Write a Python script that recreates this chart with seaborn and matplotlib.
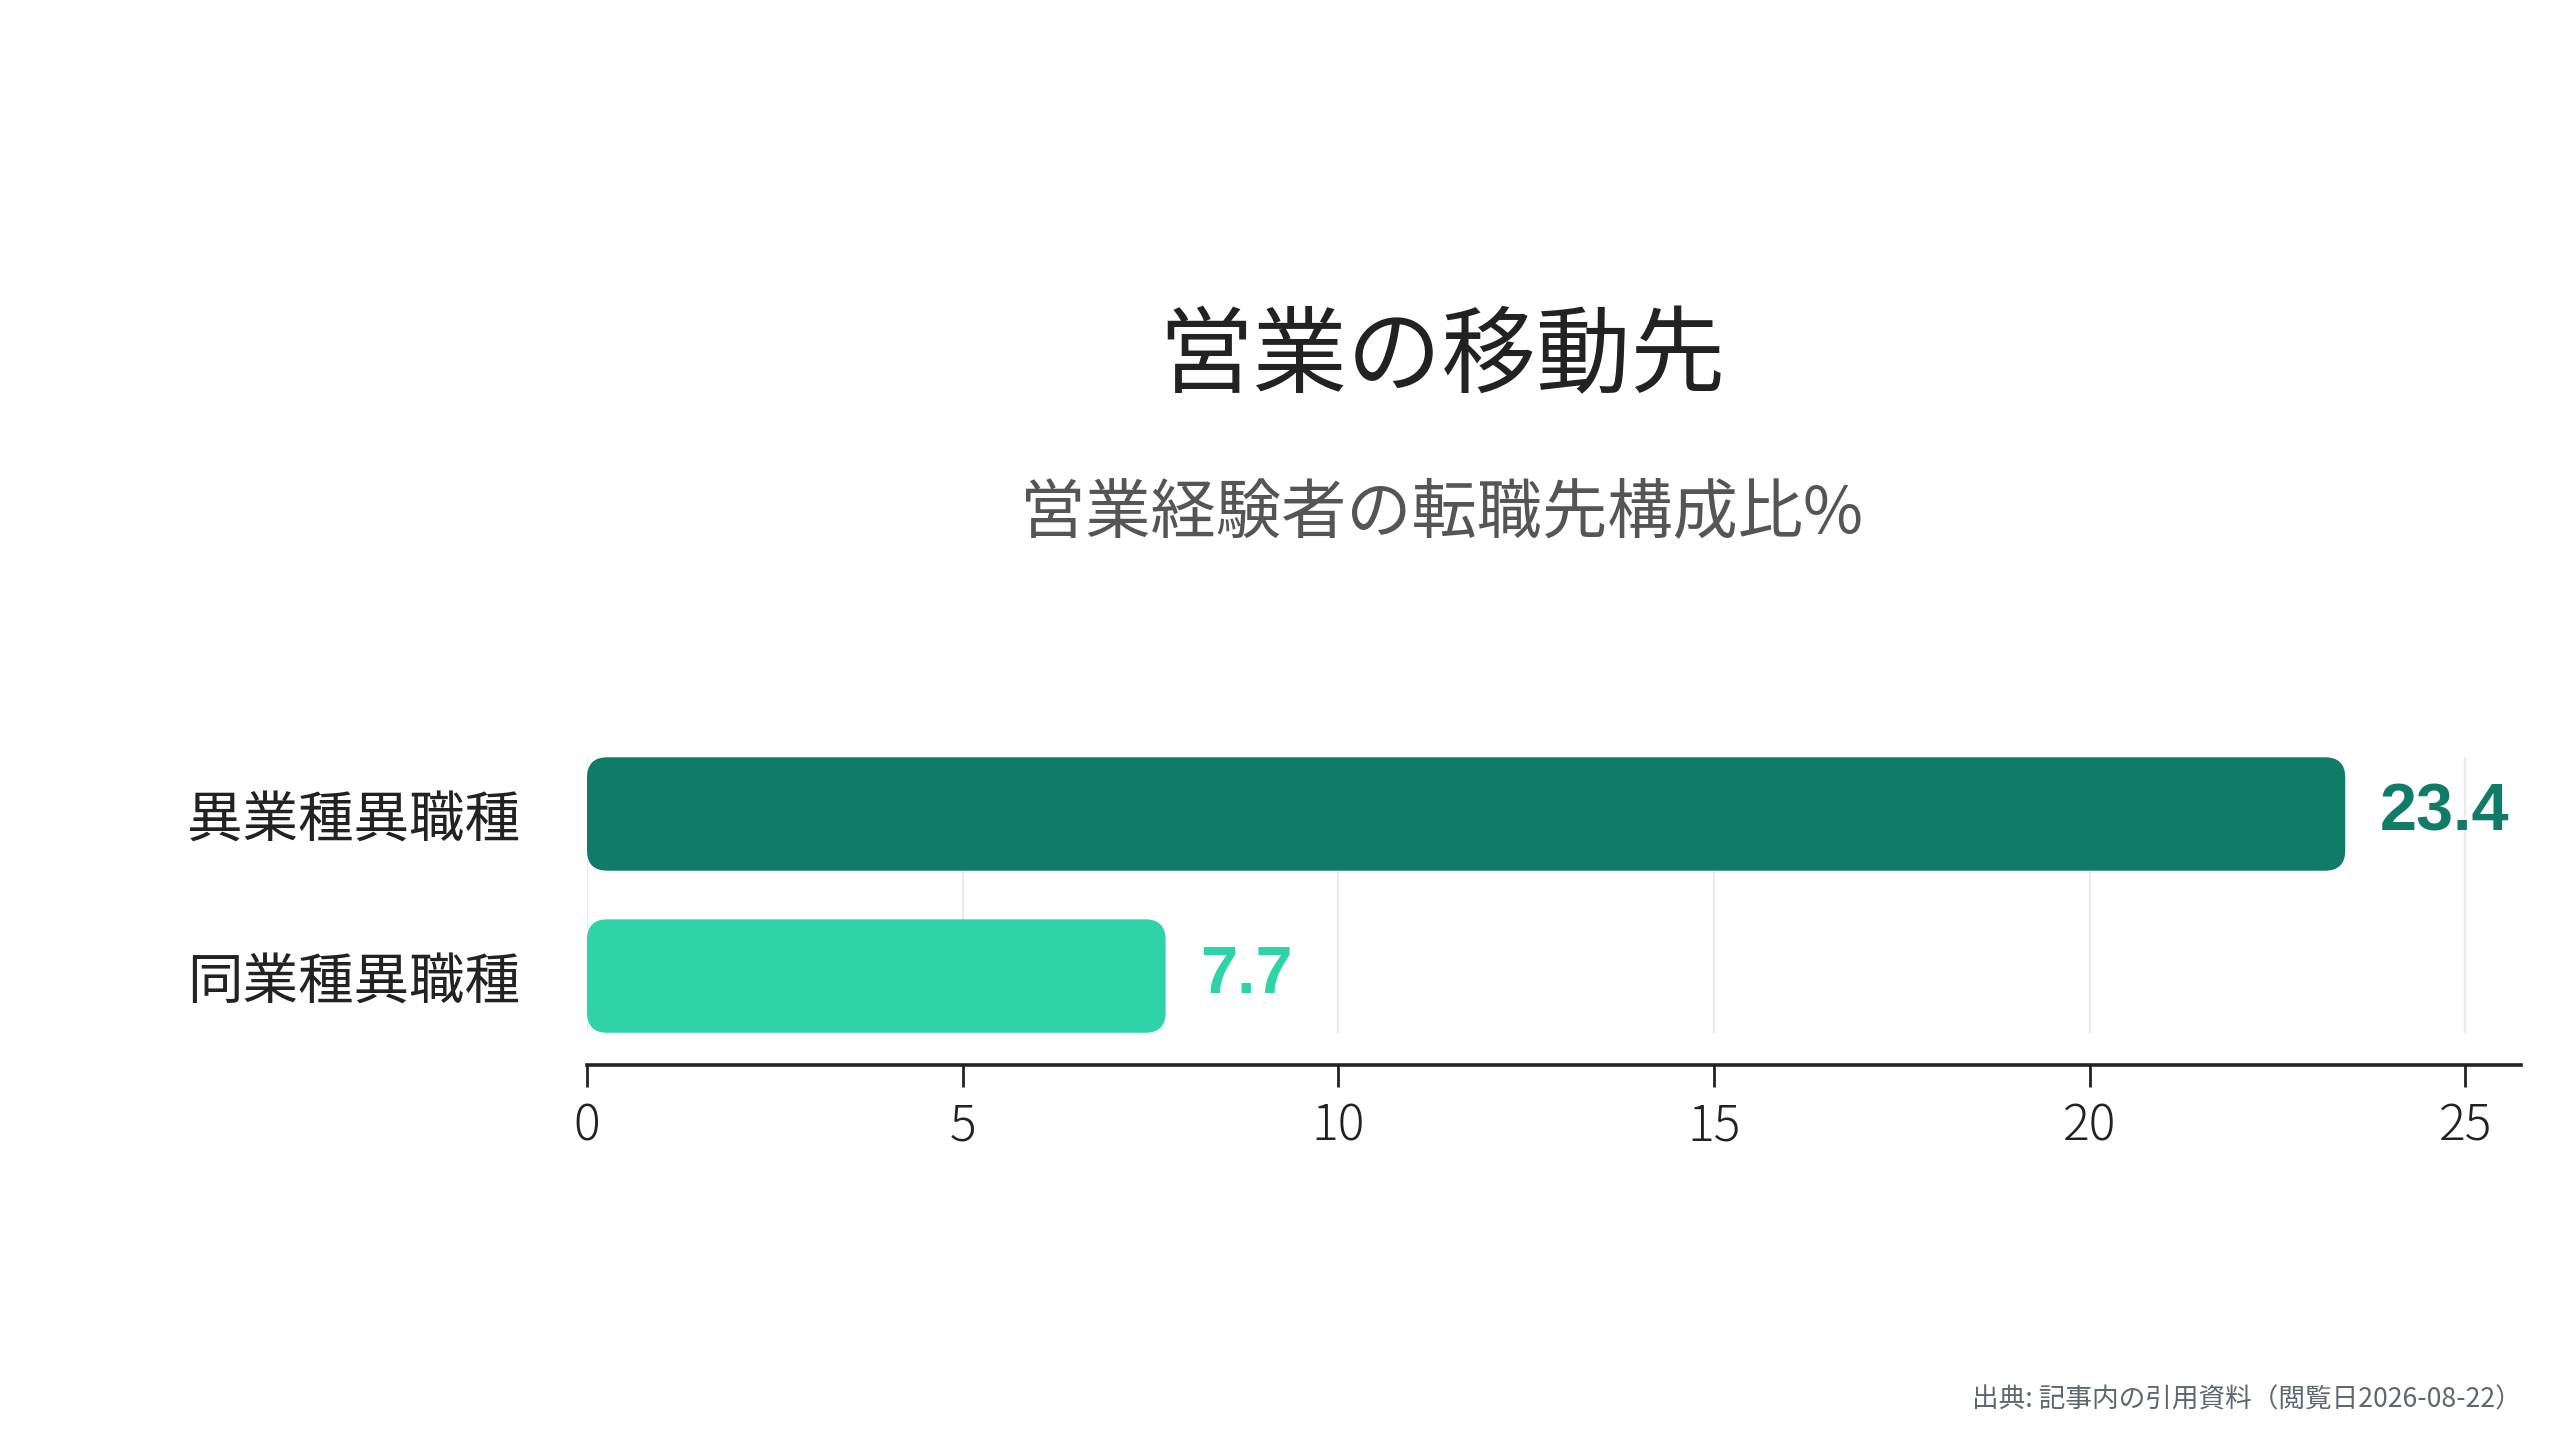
import pandas as pd
import matplotlib.pyplot as plt
import seaborn as sns
from matplotlib.patches import FancyBboxPatch

# data
categories = ["異業種異職種", "同業種異職種"]
values = [23.4, 7.7]
bar_colors = ["#107B67", "#2ED4A8"]
x_ticks = [0, 5, 10, 15, 20, 25]

title = "営業の移動先"
subtitle = "営業経験者の転職先構成比%"
source = "出典: 記事内の引用資料（閲覧日2026-08-22）"

sns.set_theme(style="white")
plt.rcParams['font.family'] = ['Noto Sans CJK JP', 'DejaVu Sans']

df = pd.DataFrame({"category": categories, "value": values})

fig = plt.figure(figsize=(12.8, 7.2), dpi=200)
ax = fig.add_axes([0.2293, 0.2604, 0.7555, 0.2306])

sns.barplot(data=df, x="value", y="category", hue="category",
            palette=bar_colors, orient="h", width=0.7, legend=False,
            ax=ax, zorder=3)

ax.set_xlim(0, max(values) * 1.1)
ax.set_ylim(1.549, -0.5)

# swap the plain bars for rounded ones
bar_h = 0.7
for patch, color in zip(list(ax.patches), bar_colors):
    x0, y0 = patch.get_x(), patch.get_y()
    w, h = patch.get_width(), patch.get_height()
    patch.remove()
    rounded = FancyBboxPatch((x0, y0), w, h,
                             boxstyle="round,pad=0,rounding_size=0.27",
                             mutation_aspect=0.465,
                             facecolor=color, edgecolor="none", zorder=3)
    ax.add_patch(rounded)

# light gridlines only over the bar band
ax.vlines(x_ticks, -bar_h / 2, 1 + bar_h / 2, colors="#ebebeb",
          linewidth=0.8, zorder=1)

for i, (v, c) in enumerate(zip(values, bar_colors)):
    ax.annotate(f"{v}", xy=(v, i), xytext=(12.5, 0), textcoords="offset points",
                va="center", ha="left", fontsize=24, fontweight="bold",
                color=c, family=['Liberation Sans', 'DejaVu Sans'])

ax.set_xticks(x_ticks)
ax.set_xlabel("")
ax.set_ylabel("")
ax.tick_params(axis="x", length=8, width=1.0, color="#222222", pad=5,
               labelsize=18, labelcolor="#222222", bottom=True)
ax.tick_params(axis="y", length=0, pad=24, labelsize=20, labelcolor="#222222")
for lbl in ax.get_xticklabels():
    lbl.set_fontweight("light")

for side in ["top", "right", "left"]:
    ax.spines[side].set_visible(False)
ax.spines["bottom"].set_color("#222222")
ax.spines["bottom"].set_linewidth(1.3)

fig.text(0.563, 0.751, title, ha="center", va="center", fontsize=34,
         color="#222222")
fig.text(0.563, 0.643, subtitle, ha="center", va="center", fontsize=23.5,
         color="#555555")
fig.text(0.985, 0.028, source, ha="right", va="center", fontsize=9.6,
         color="#5f6670")

fig.savefig("out.png", dpi=200, facecolor="white")
